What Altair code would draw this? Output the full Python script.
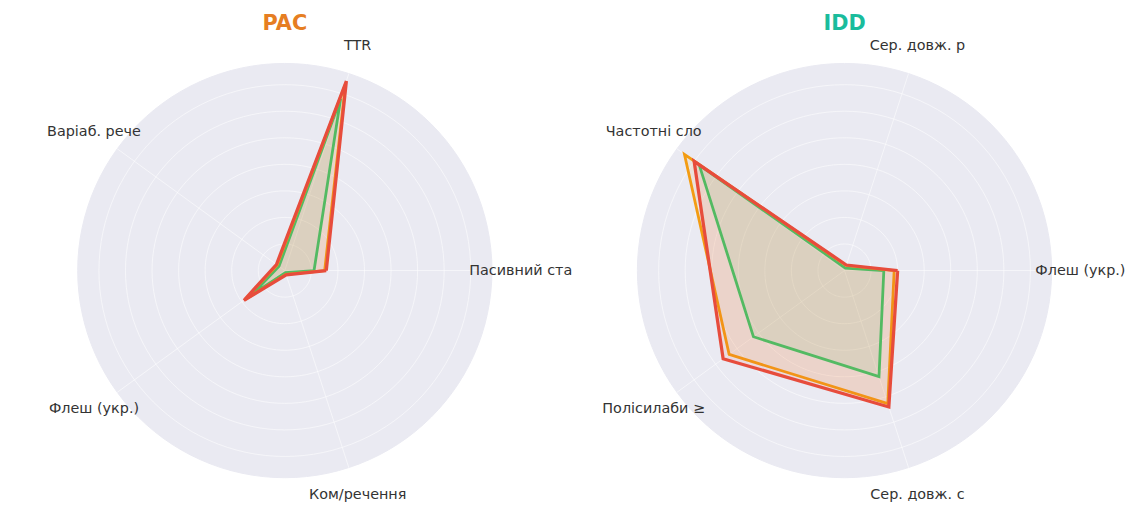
import altair as alt
import pandas as pd
import numpy as np

# ---------------- data ----------------
pac_categories = ["Пасивний ста", "TTR", "Варіаб. рече", "Флеш (укр.)", "Ком/речення"]
idd_categories = ["Флеш (укр.)", "Сер. довж. р", "Частотні сло", "Полісилаби ≥", "Сер. довж. с"]

series_names = ["Серія 1", "Серія 2", "Серія 3"]
series_colors = ["#2ecc71", "#f39c12", "#e74c3c"]
series_widths = [2.8, 2.8, 3.3]

pac_s1 = [0.110, 0.680, 0.027, 0.150, 0.008]
pac_s2 = [0.150, 0.740, 0.036, 0.185, 0.015]
pac_s3 = [0.156, 0.750, 0.039, 0.190, 0.017]

idd_s1 = [0.148, 0.010, 0.676, 0.424, 0.420]
idd_s2 = [0.187, 0.020, 0.745, 0.537, 0.527]
idd_s3 = [0.200, 0.022, 0.700, 0.565, 0.540]

ring_values = [0.1, 0.2, 0.3, 0.4, 0.5, 0.6, 0.7]
r_max = 0.78

# ---------------- layout constants ----------------
PANEL_W = 559
PANEL_H = 490
PX_PER_UNIT = 209 / r_max
LABEL_R = 238 / PX_PER_UNIT
BG = "#EAEAF2"
N = 5


def xy_calc(ch):
    return ch.transform_calculate(
        ang=f"datum.i * 2 * PI / {N}"
    ).transform_calculate(
        x="datum.v * cos(datum.ang)", y="datum.v * sin(datum.ang)"
    )


def radar(categories, values_list, title, title_color, cx_px, cy_px):
    xdom = [-cx_px / PX_PER_UNIT, (PANEL_W - cx_px) / PX_PER_UNIT]
    ydom = [-(PANEL_H - cy_px) / PX_PER_UNIT, cy_px / PX_PER_UNIT]
    X = alt.X("x:Q", scale=alt.Scale(domain=xdom, nice=False, zero=False), axis=None)
    Y = alt.Y("y:Q", scale=alt.Scale(domain=ydom, nice=False, zero=False), axis=None)

    # background disk
    deg = np.arange(0, 361, 3)
    disk_df = pd.DataFrame({"a": np.radians(deg), "v": r_max})
    disk = alt.Chart(disk_df).mark_line(
        fill=BG, stroke=BG, strokeWidth=1, fillOpacity=1
    ).transform_calculate(
        x="datum.v * cos(datum.a)", y="datum.v * sin(datum.a)"
    ).encode(x=X, y=Y, order=alt.Order("a:Q"))

    # rings
    ring_df = pd.DataFrame(
        [{"ring": r, "a": a, "v": r} for r in ring_values for a in np.radians(deg)]
    )
    rings = alt.Chart(ring_df).mark_line(
        stroke="white", strokeWidth=1, strokeOpacity=0.55
    ).transform_calculate(
        x="datum.v * cos(datum.a)", y="datum.v * sin(datum.a)"
    ).encode(x=X, y=Y, detail="ring:N", order=alt.Order("a:Q"))

    # spokes
    spoke_df = pd.DataFrame([{"i": i, "v": v} for i in range(N) for v in (0, r_max)])
    spokes = xy_calc(alt.Chart(spoke_df)).mark_line(
        stroke="white", strokeWidth=1, strokeOpacity=0.55
    ).encode(x=X, y=Y, detail="i:N", order=alt.Order("v:Q"))

    layers = [disk, rings, spokes]

    # series polygons
    for name, color, w, vals in zip(series_names, series_colors, series_widths, values_list):
        rows = [{"i": i, "cat": c, "v": v, "s": name} for i, (c, v) in enumerate(zip(categories, vals))]
        rows.append({"i": N, "cat": categories[0], "v": vals[0], "s": name})
        df = pd.DataFrame(rows)
        poly = xy_calc(alt.Chart(df)).mark_line(
            fill=color, fillOpacity=0.1, stroke=color, strokeWidth=w,
            strokeJoin="miter"
        ).encode(x=X, y=Y, order=alt.Order("i:Q"))
        layers.append(poly)

    # category labels
    lab_df = pd.DataFrame({"i": list(range(N)), "cat": categories, "v": LABEL_R})
    labels = xy_calc(alt.Chart(lab_df)).mark_text(
        font="DejaVu Sans", fontSize=14.5, color="#333333",
        align="center", baseline="middle"
    ).encode(x=X, y=Y, text="cat:N")
    layers.append(labels)

    # title
    title_df = pd.DataFrame({"t": [title]})
    ttl = alt.Chart(title_df).mark_text(
        font="DejaVu Sans", fontSize=21, fontWeight="bold", color=title_color,
        align="center", baseline="alphabetic"
    ).encode(x=alt.value(cx_px), y=alt.value(20), text="t:N")
    layers.append(ttl)

    return alt.layer(*layers).properties(
        width=PANEL_W, height=PANEL_H,
        view=alt.ViewBackground(strokeWidth=0, stroke="transparent")
    )


pac = radar(pac_categories, [pac_s1, pac_s2, pac_s3], "PAC", "#e67e22", 279.3, 262.7)
idd = radar(idd_categories, [idd_s1, idd_s2, idd_s3], "IDD", "#1abc9c", 285.0, 262.7)

chart = alt.hconcat(pac, idd, spacing=0).properties(
    padding=0, bounds="flush"
).configure_view(strokeWidth=0, stroke="transparent").configure(background="white")

chart.save("out.html", embed_options={"renderer": "svg", "actions": False})
